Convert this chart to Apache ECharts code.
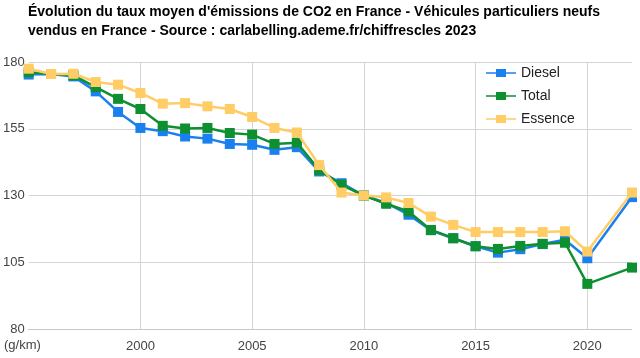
<!DOCTYPE html>
<html>
<head>
<meta charset="utf-8">
<script src="https://cdn.jsdelivr.net/npm/echarts@6/dist/echarts.min.js"></script>
<style>html,body{margin:0;padding:0;background:#fff}#c{width:640px;height:358px}</style>
</head>
<body>
<div id="c"></div>
<script>
const years = [1995,1996,1997,1998,1999,2000,2001,2002,2003,2004,2005,2006,2007,2008,2009,2010,2011,2012,2013,2014,2015,2016,2017,2018,2019,2020,2022];
const diesel  = [175.3,175.5,174.6,169.0,161.3,155.3,154.1,152.1,151.3,149.3,149.0,147.1,148.1,139.0,134.6,130.0,127.2,122.8,117.0,114.0,111.0,108.6,109.9,111.8,113.4,106.5,129.4];
const total   = [176.2,175.5,175.0,170.6,166.2,162.4,156.1,155.1,155.3,153.4,152.8,149.3,149.8,139.5,134.0,130.0,126.9,124.0,117.1,114.0,111.0,110.0,111.1,111.9,112.3,96.9,103.0];
const essence = [177.5,175.5,175.6,172.5,171.5,168.4,164.4,164.6,163.4,162.4,159.4,155.3,153.6,141.4,131.1,130.0,129.3,127.2,122.1,119.0,116.3,116.3,116.3,116.3,116.6,109.0,131.1];
const yTicks = [80,105,130,155,180];
const xTickLabels = [2000,2005,2010,2015,2020];
const seriesNames = ['Diesel','Total','Essence'];
const colors = ['#1a80f0','#0f9030','#ffcc66'];
const titleText = "Évolution du taux moyen d'émissions de CO2 en France - Véhicules particuliers neufs\nvendus en France - Source : carlabelling.ademe.fr/chiffrescles 2023";
const unitLabel = '(g/km)';

const pairs = arr => years.map((y,i)=>[y,arr[i]]);
const chart = echarts.init(document.getElementById('c'));
chart.setOption({
  animation:false,
  color: colors,
  textStyle:{fontFamily:'Liberation Sans, Arial, sans-serif'},
  title:{
    text:titleText, left:28, top:3, padding:0,
    textStyle:{fontSize:14, fontWeight:'bold', color:'#000', lineHeight:19, fontFamily:'Liberation Sans, Arial, sans-serif'}
  },
  legend:{
    orient:'vertical', left:484, top:64, itemGap:9,
    itemWidth:30, itemHeight:10, backgroundColor:'#fff', padding:[2,4,2,2],
    textStyle:{fontSize:14, color:'#222', padding:[0,0,0,0]},
    data: seriesNames.map(n=>({name:n, icon:'path://M0,4.2 L10,4.2 L10,1 L20,1 L20,4.2 L30,4.2 L30,5.8 L20,5.8 L20,9 L10,9 L10,5.8 L0,5.8 Z'}))
  },
  grid:{left:28, right:8, top:62, bottom:29, containLabel:false},
  xAxis:{
    type:'value', min:1995, max:2022, interval:5,
    axisLine:{show:false}, axisTick:{show:false},
    splitLine:{show:true, showMinLine:false, showMaxLine:false, lineStyle:{color:'#d4d4d4', width:1}},
    axisLabel:{fontSize:13, color:'#444', margin:11,
      formatter: v => xTickLabels.indexOf(v) >= 0 ? String(v) : ''}
  },
  yAxis:{
    type:'value', min:yTicks[0], max:yTicks[yTicks.length-1], interval:25,
    axisLine:{show:false}, axisTick:{show:false},
    splitLine:{lineStyle:{color:'#d4d4d4', width:1}},
    axisLabel:{fontSize:13, color:'#444', margin:4}
  },
  graphic:[
    {type:'text', left:4, top:339, style:{text:unitLabel, font:'13px Liberation Sans, Arial, sans-serif', fill:'#444'}},
    {type:'line', shape:{x1:28, y1:329.5, x2:632, y2:329.5}, style:{stroke:'#c8c8c8', lineWidth:1}, z:1}
  ],
  series:[diesel,total,essence].map((d,i)=>({
    name:seriesNames[i], type:'line', data:pairs(d),
    symbol:'rect', symbolSize:10, showAllSymbol:true,
    lineStyle:{width:2.5, color:colors[i]},
    itemStyle:{color:colors[i]},
    z: 2+i
  }))
});
</script>
</body>
</html>
